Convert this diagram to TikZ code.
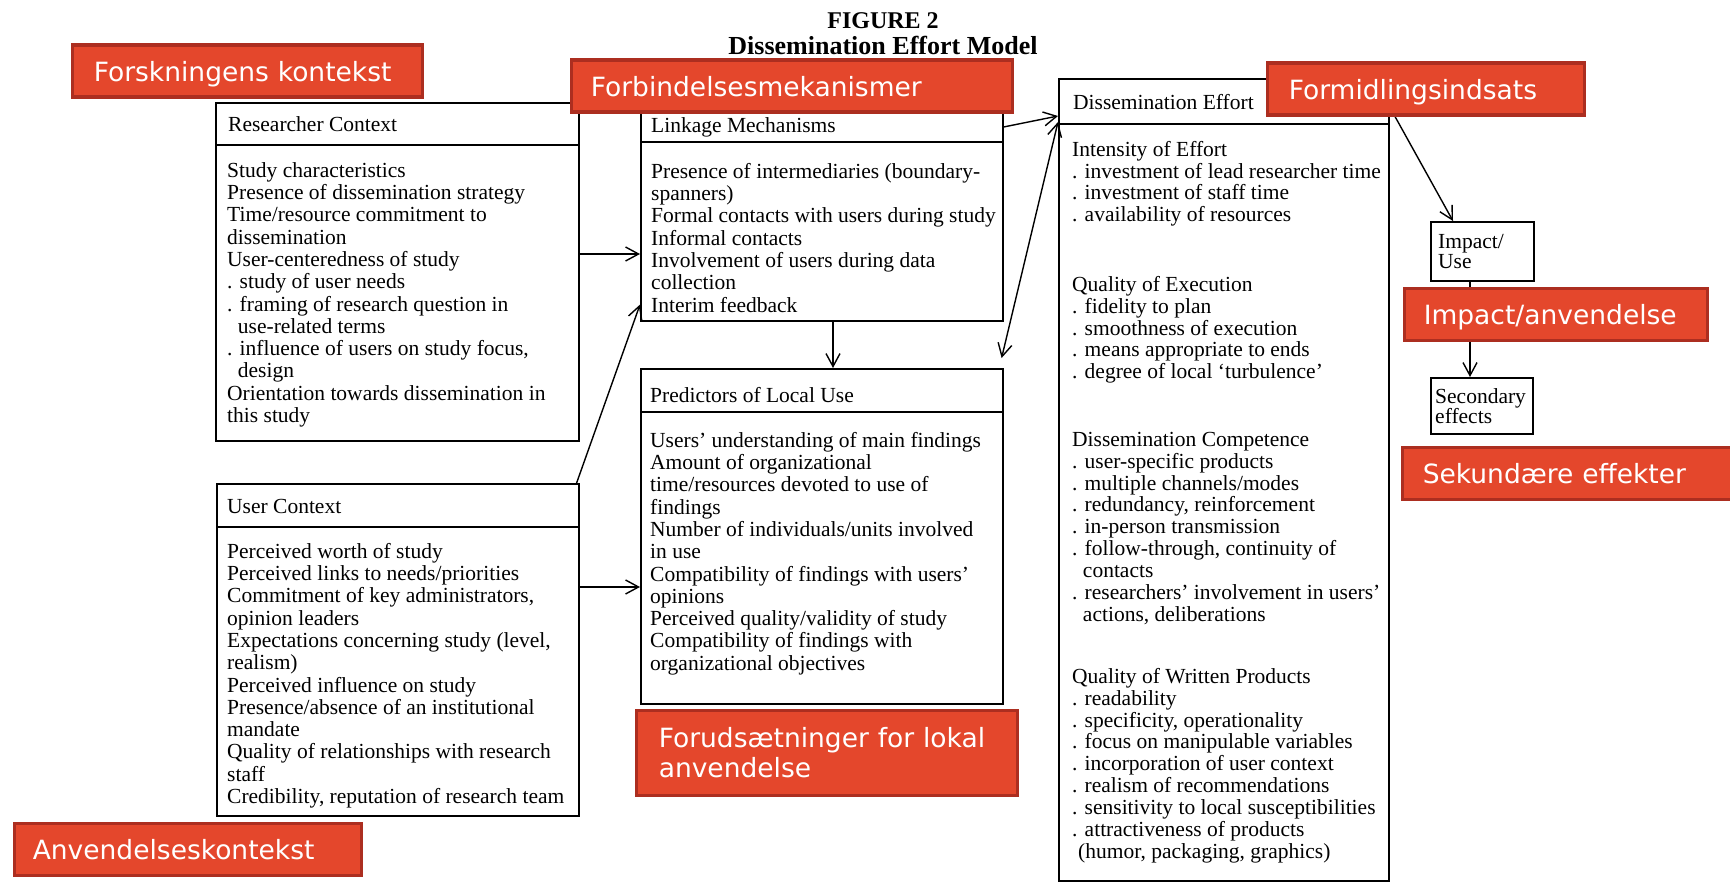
\documentclass[tikz,border=0pt]{standalone}
\usepackage{fontspec}
\setmainfont{Liberation Serif}
\newfontfamily\labfont{DejaVu Sans}
\usetikzlibrary{arrows.meta,calc}
\definecolor{labred}{RGB}{228,71,44}
\definecolor{labdark}{RGB}{172,46,32}
\newcommand\bodyfont{\fontsize{21.5}{22.3}\selectfont}
\newcommand\defont{\fontsize{21.5}{21.9}\selectfont}
\newcommand\smallboxfont{\fontsize{21.5}{20.5}\selectfont}
\newcommand\labelfont{\labfont\fontsize{26.5}{30}\selectfont}
\newcommand\bind{\hphantom{.\ }}
\newcommand\topstrut{\rule{0pt}{17pt}}
\begin{document}
\begin{tikzpicture}[x=1pt,y=-1pt,
  frame/.style={draw=black, line width=1.6pt, inner sep=0pt, anchor=north west},
  hd/.style={font=\bodyfont, anchor=base west, inner sep=0pt},
  body/.style={font=\bodyfont, anchor=north west, inner sep=0pt, align=left},
  debody/.style={font=\defont, anchor=north west, inner sep=0pt, align=left},
  smallbody/.style={font=\smallboxfont, anchor=north west, inner sep=0pt, align=left},
  sep/.style={line width=1.6pt},
  arr/.style={line width=1.4pt, -{Straight Barb[length=13pt,width=14pt]}},
  dbl/.style={line width=1.4pt, {Straight Barb[length=13pt,width=14pt]}-{Straight Barb[length=13pt,width=14pt]}},
  redlab/.style={fill=labred, draw=labdark, line width=3.5pt, text=white, font=\labelfont,
    anchor=north west, align=left, inner ysep=0pt, text height=27pt, text depth=6pt},
  titlefont/.style={font=\bfseries\fontsize{#1}{#1}\selectfont, anchor=base, inner sep=0pt}
]
\useasboundingbox[fill=white] (0,0) rectangle (1730,896);

% title
\node[titlefont=24] (t1) at (883,29) {FIGURE 2};
\node[titlefont=26] (t2) at (883,55) {Dissemination Effort Model};

% Researcher Context
\node[frame, minimum width=363pt, minimum height=338pt] (rc) at (215,102) {};
\draw[sep] ($(rc.north west)+(0,43)$) -- ($(rc.north east)+(0,43)$);
\node[hd] (rch) at (228,132) {Researcher Context};
\node[body] (rcb) at (227,160) {\topstrut Study characteristics\\
Presence of dissemination strategy\\
Time/resource commitment to\\
dissemination\\
User-centeredness of study\\
. study of user needs\\
. framing of research question in\\
\bind use-related terms\\
. influence of users on study focus,\\
\bind design\\
Orientation towards dissemination in\\
this study};

% Linkage Mechanisms
\node[frame, minimum width=362pt, minimum height=216pt] (lm) at (640,104) {};
\draw[sep] ($(lm.north west)+(0,38)$) -- ($(lm.north east)+(0,38)$);
\node[hd] (lmh) at (651,133) {Linkage Mechanisms};
\node[body] (lmb) at (651,161) {\topstrut Presence of intermediaries (boundary-\\
spanners)\\
Formal contacts with users during study\\
Informal contacts\\
Involvement of users during data\\
collection\\
Interim feedback};

% Predictors of Local Use
\node[frame, minimum width=362pt, minimum height=335pt] (pl) at (640,368) {};
\draw[sep] ($(pl.north west)+(0,44)$) -- ($(pl.north east)+(0,44)$);
\node[hd] (plh) at (650,402) {Predictors of Local Use};
\node[body] (plb) at (650,430) {\topstrut Users' understanding of main findings\\
Amount of organizational\\
time/resources devoted to use of\\
findings\\
Number of individuals/units involved\\
in use\\
Compatibility of findings with users'\\
opinions\\
Perceived quality/validity of study\\
Compatibility of findings with\\
organizational objectives};

% User Context
\node[frame, minimum width=362pt, minimum height=332pt] (uc) at (216,483) {};
\draw[sep] ($(uc.north west)+(0,44)$) -- ($(uc.north east)+(0,44)$);
\node[hd] (uch) at (227,513) {User Context};
\node[body] (ucb) at (227,541) {\topstrut Perceived worth of study\\
Perceived links to needs/priorities\\
Commitment of key administrators,\\
opinion leaders\\
Expectations concerning study (level,\\
realism)\\
Perceived influence on study\\
Presence/absence of an institutional\\
mandate\\
Quality of relationships with research\\
staff\\
Credibility, reputation of research team};

% Dissemination Effort
\node[frame, minimum width=330pt, minimum height=802pt] (de) at (1058,78) {};
\draw[sep] ($(de.north west)+(0,46)$) -- ($(de.north east)+(0,46)$);
\node[hd] (deh) at (1073,110) {Dissemination Effort};
\node[debody] (de1) at (1072,139) {\topstrut Intensity of Effort\\
. investment of lead researcher time\\
. investment of staff time\\
. availability of resources};
\node[debody] (de2) at (1072,274) {\topstrut Quality of Execution\\
. fidelity to plan\\
. smoothness of execution\\
. means appropriate to ends\\
. degree of local `turbulence'};
\node[debody] (de3) at (1072,429) {\topstrut Dissemination Competence\\
. user-specific products\\
. multiple channels/modes\\
. redundancy, reinforcement\\
. in-person transmission\\
. follow-through, continuity of\\
\bind contacts\\
. researchers' involvement in users'\\
\bind actions, deliberations};
\node[debody] (de4) at (1072,666) {\topstrut Quality of Written Products\\
. readability\\
. specificity, operationality\\
. focus on manipulable variables\\
. incorporation of user context\\
. realism of recommendations\\
. sensitivity to local susceptibilities\\
. attractiveness of products\\
\hspace{6pt}(humor, packaging, graphics)};

% Impact/Use and Secondary effects
\node[frame, minimum width=103pt, minimum height=59pt] (iu) at (1430,221) {};
\node[smallbody] (iut) at (1438,231) {\topstrut Impact/\\Use};
\node[frame, minimum width=102pt, minimum height=56pt] (se) at (1430,377) {};
\node[smallbody] (set) at (1435,386) {\topstrut Secondary\\effects};

% connectors
\coordinate (a1y) at (0,254);
\draw[arr] (rc.east |- a1y) -- (lm.west |- a1y);
\draw[arr] ($(uc.north east)+(-3,0)$) -- ($(lm.south west)+(0,-17)$);
\coordinate (a3y) at (0,587);
\draw[arr] (uc.east |- a3y) -- (pl.west |- a3y);
\coordinate (a4x) at (833,0);
\draw[arr] (lm.south -| a4x) -- (pl.north -| a4x);
\draw[arr] ($(lm.north east)+(0,23)$) -- ($(de.north west)+(0,38)$);
\draw[dbl] ($(pl.north east)+(-2,-10)$) -- ($(de.north west)+(0,44)$);
\draw[arr] ($(de.north east)+(4,36)$) -- ($(iu.north west)+(23,0)$);
\coordinate (a8x) at (1470,0);
\draw[arr] (iu.south -| a8x) -- (se.north -| a8x);

% red labels
\node[redlab, minimum width=350pt, minimum height=52pt, inner xsep=21.5pt, text width=307pt] (l1) at (70.5,43.5) {Forskningens kontekst};
\node[redlab, minimum width=441pt, minimum height=52pt, inner xsep=19.5pt, text width=402pt] (l2) at (569.5,58.5) {Forbindelsesmekanismer};
\node[redlab, minimum width=317pt, minimum height=52pt, inner xsep=21.5pt, text width=274pt] (l3) at (1265.5,61.5) {Formidlingsindsats};
\node[redlab, minimum width=303pt, minimum height=52pt, inner xsep=19.5pt, text width=264pt] (l4) at (1402.5,286.5) {Impact/anvendelse};
\node[redlab, minimum width=343pt, minimum height=52pt, inner xsep=20.5pt, text width=302pt] (l5) at (1400.5,445.5) {Sekundære effekter};
\node[redlab, minimum width=381pt, minimum height=85pt, inner xsep=22.5pt, text width=336pt, text height=, text depth=] (l6) at (634.5,708.5) {Forudsætninger for lokal\\anvendelse};
\node[redlab, minimum width=347pt, minimum height=52pt, inner xsep=18.5pt, text width=310pt] (l7) at (12.5,821.5) {Anvendelseskontekst};
\end{tikzpicture}
\end{document}
